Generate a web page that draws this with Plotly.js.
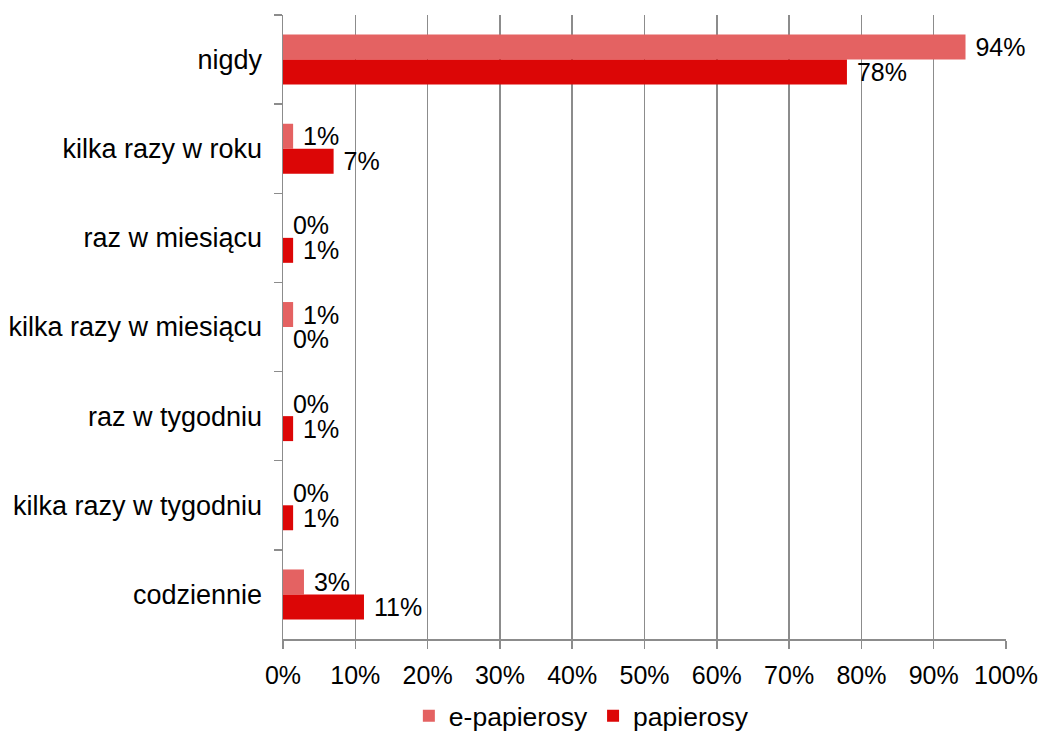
<!DOCTYPE html>
<html>
<head>
<meta charset="utf-8">
<script src="https://cdn.plot.ly/plotly-3.0.1.min.js"></script>
<style>html,body{margin:0;padding:0;background:#fff;}#chart{width:1043px;height:740px;}</style>
</head>
<body>
<div id="chart"></div>
<script>
const categories = ["nigdy", "kilka razy w roku", "raz w miesiącu", "kilka razy w miesiącu", "raz w tygodniu", "kilka razy w tygodniu", "codziennie"];
const ePapierosy = [94.4, 1.4, 0, 1.4, 0, 0, 2.9];
const papierosy = [78, 7, 1.4, 0, 1.4, 1.4, 11.2];
const seriesNames = ["e-papierosy", "papierosy"];
const xTickVals = [0, 10, 20, 30, 40, 50, 60, 70, 80, 90, 100];
const xTickText = ["0%", "10%", "20%", "30%", "40%", "50%", "60%", "70%", "80%", "90%", "100%"];

const font = "Liberation Sans, Arial, sans-serif";

const traces = [
  {
    type: "bar", orientation: "h", name: seriesNames[0],
    y: categories, x: ePapierosy,
    marker: {color: "#e46262"},
    texttemplate: "\u00a0%{x:.0f}%", textposition: "outside",
    textfont: {family: font, size: 25, color: "#000"},
    constraintext: "none", cliponaxis: false, hoverinfo: "none"
  },
  {
    type: "bar", orientation: "h", name: seriesNames[1],
    y: categories, x: papierosy,
    marker: {color: "#dc0606"},
    texttemplate: "\u00a0%{x:.0f}%", textposition: "outside",
    textfont: {family: font, size: 25, color: "#000"},
    constraintext: "none", cliponaxis: false, hoverinfo: "none"
  }
];

const layout = {
  width: 1043, height: 740,
  margin: {l: 283, r: 37, t: 15, b: 101, autoexpand: false},
  paper_bgcolor: "#fff", plot_bgcolor: "#fff",
  font: {family: font, size: 24, color: "#000"},
  barmode: "group", bargap: 0.44, bargroupgap: 0,
  showlegend: true,
  legend: {orientation: "h", xref: "container", x: 0.392, xanchor: "left",
           yref: "container", y: -0.008, yanchor: "bottom",
           font: {family: font, size: 26.5, color: "#000"}, tracegroupgap: 0},
  xaxis: {
    range: [0, 100], tickvals: xTickVals, ticktext: xTickText,
    showgrid: true, gridcolor: "#8c8c8c", gridwidth: 1.5,
    showline: true, linecolor: "#8c8c8c", linewidth: 1.5,
    ticks: "outside", ticklen: 8, tickcolor: "#8c8c8c", tickwidth: 1.5,
    ticklabelstandoff: 5, zeroline: false, fixedrange: true,
    tickfont: {family: font, size: 25, color: "#000"}
  },
  yaxis: {
    type: "category", autorange: "reversed",
    showline: true, linecolor: "#8c8c8c", linewidth: 1.5,
    ticks: "outside", ticklen: 8, tickcolor: "#8c8c8c", tickwidth: 1.5,
    tickson: "boundaries", showgrid: false, zeroline: false,
    ticklabelstandoff: 14, fixedrange: true,
    tickfont: {family: font, size: 27, color: "#000"}
  }
};

Plotly.newPlot("chart", traces, layout, {displayModeBar: false, staticPlot: true});
</script>
</body>
</html>
